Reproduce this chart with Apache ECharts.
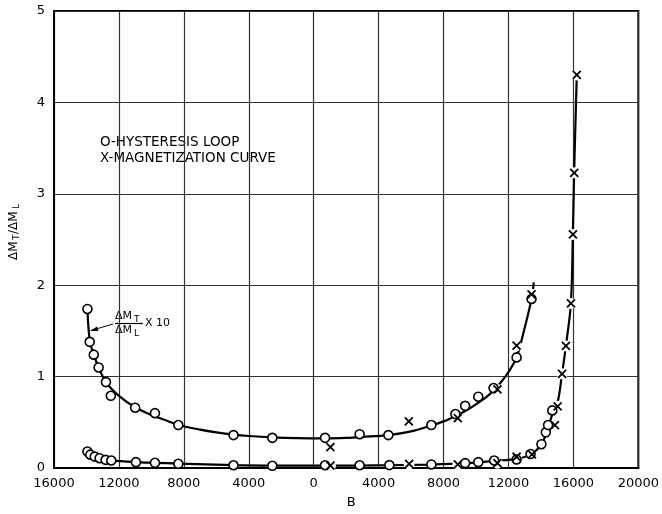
<!DOCTYPE html>
<html>
<head>
<meta charset="utf-8">
<script src="https://cdn.jsdelivr.net/npm/echarts@6/dist/echarts.min.js"></script>
<style>html,body{margin:0;padding:0;background:#fff;}#c{width:662px;height:514px;}</style>
</head>
<body>
<div id="c"></div>
<script>
// x tick settings
var xTickValues = [-16000, -12000, -8000, -4000, 0, 4000, 8000, 12000, 16000, 20000];
var yTickValues = [0, 1, 2, 3, 4, 5];

// Hysteresis loop (circles), upper set is dMT/dML x10
var hystUpperB = [-13940, -13800, -13550, -13250, -12800, -12500, -11000, -9780, -8340, -4940, -2550, 700, 2830, 4600, 7250, 8730, 9330, 10140, 11080, 12500, 13420];
var hystUpperV = [1.74, 1.38, 1.24, 1.10, 0.94, 0.79, 0.66, 0.60, 0.47, 0.36, 0.33, 0.33, 0.37, 0.36, 0.47, 0.59, 0.68, 0.78, 0.875, 1.21, 1.85];
var hystLowerB = [-13940, -13760, -13490, -13190, -12820, -12470, -10950, -9780, -8340, -4940, -2550, 700, 2830, 4660, 7250, 9330, 10140, 11120, 12500, 13360, 14030, 14300, 14440, 14700];
var hystLowerV = [0.18, 0.146, 0.125, 0.107, 0.089, 0.082, 0.064, 0.057, 0.046, 0.03, 0.024, 0.03, 0.03, 0.032, 0.039, 0.053, 0.064, 0.082, 0.093, 0.153, 0.26, 0.39, 0.47, 0.63];

// Magnetization curve (crosses)
var magUpperB = [1030, 5860, 8880, 11320, 12500, 13420];
var magUpperV = [0.228, 0.51, 0.546, 0.86, 1.34, 1.90];
var magLowerB = [1030, 5880, 8880, 11320, 12500, 13450, 14860, 15030, 15300, 15540, 15850, 15970, 16050, 16210];
var magLowerV = [0.025, 0.045, 0.039, 0.053, 0.123, 0.15, 0.468, 0.675, 1.03, 1.335, 1.80, 2.555, 3.23, 4.30];

// Drawn curves
var upperCurveB = [-13940, -13800, -13550, -13250, -12800, -12000, -11000, -10000, -9000, -8340, -7000, -6000, -4940, -4000, -2550, -1000, 700, 2000, 3000, 4600, 6000, 7250, 8000, 8800, 9500, 10100, 10800, 11500, 12000, 12500, 12950, 13420, 13560];
var upperCurveV = [1.74, 1.40, 1.24, 1.10, 0.94, 0.79, 0.665, 0.58, 0.515, 0.47, 0.42, 0.39, 0.365, 0.35, 0.335, 0.327, 0.325, 0.33, 0.34, 0.36, 0.40, 0.465, 0.51, 0.575, 0.64, 0.71, 0.80, 0.93, 1.05, 1.21, 1.50, 1.85, 2.03];
var lowerCurveB = [-13940, -13760, -13490, -13190, -12820, -12470, -11000, -9780, -8340, -4940, -2550, 700, 2830, 4660, 7250, 9330, 10140, 11120, 12500, 13400, 14030, 14300, 14500, 14730, 15030, 15300, 15540, 15845, 15966, 16045, 16210];
var lowerCurveV = [0.18, 0.146, 0.125, 0.107, 0.09, 0.08, 0.065, 0.057, 0.048, 0.032, 0.026, 0.025, 0.026, 0.03, 0.038, 0.05, 0.062, 0.078, 0.10, 0.152, 0.255, 0.37, 0.475, 0.60, 0.72, 1.03, 1.34, 1.80, 2.555, 3.23, 4.30];

function zip(a, b) { return a.map(function (v, i) { return [v, b[i]]; }); }

var chart = echarts.init(document.getElementById('c'), null, {renderer: 'canvas'});
var FONT = 'DejaVu Sans';
var option = {
  animation: false,
  backgroundColor: '#fff',
  grid: {left: 54, right: 19, top: 11, bottom: 36, show: true, borderColor: '#000', borderWidth: 2, backgroundColor: 'transparent'},
  xAxis: {
    type: 'value', min: xTickValues[0], max: xTickValues[xTickValues.length - 1], interval: 4000,
    name: 'B', nameLocation: 'middle', nameGap: 28,
    nameTextStyle: {fontFamily: FONT, fontSize: 13, color: '#000', padding: [0, 0, 0, 10]},
    axisLine: {show: true, onZero: false, lineStyle: {color: '#000', width: 2}},
    axisTick: {show: false},
    axisLabel: {formatter: function (v) { return String(Math.abs(v)); }, fontFamily: FONT, fontSize: 13, color: '#000', margin: 9},
    splitLine: {show: true, lineStyle: {color: '#333', width: 1.2}}
  },
  yAxis: {
    type: 'value', min: yTickValues[0], max: yTickValues[yTickValues.length - 1], interval: 1,
    axisLine: {show: true, onZero: false, lineStyle: {color: '#000', width: 2}},
    axisTick: {show: false},
    axisLabel: {fontFamily: FONT, fontSize: 13, color: '#000', margin: 9},
    splitLine: {show: true, lineStyle: {color: '#333', width: 1.2}}
  },
  graphic: [
    {type: 'text', left: 100, top: 135, style: {text: 'O-HYSTERESIS LOOP', font: '13.5px "DejaVu Sans"', fill: '#000'}},
    {type: 'text', left: 100, top: 151, style: {text: 'X-MAGNETIZATION CURVE', font: '13.5px "DejaVu Sans"', fill: '#000'}},
    // y-axis name, rotated
    {type: 'group', x: 14, y: 260, rotation: Math.PI / 2, children: [
      {type: 'text', x: 0, y: 0, style: {text: 'ΔM', font: '12px "DejaVu Sans"', fill: '#000', textVerticalAlign: 'middle'}},
      {type: 'text', x: 20, y: 3, style: {text: 'T', font: '9px "DejaVu Sans"', fill: '#000', textVerticalAlign: 'middle'}},
      {type: 'text', x: 26, y: 0, style: {text: '/ΔM', font: '12px "DejaVu Sans"', fill: '#000', textVerticalAlign: 'middle'}},
      {type: 'text', x: 51, y: 3, style: {text: 'L', font: '9px "DejaVu Sans"', fill: '#000', textVerticalAlign: 'middle'}}
    ]},
    // fraction annotation
    {type: 'text', x: 115, y: 311, style: {text: 'ΔM', font: '11px "DejaVu Sans"', fill: '#000'}},
    {type: 'text', x: 134, y: 315, style: {text: 'T', font: '9px "DejaVu Sans"', fill: '#000'}},
    {type: 'line', shape: {x1: 115, y1: 323.5, x2: 143, y2: 323.5}, style: {stroke: '#000', lineWidth: 1.2}},
    {type: 'text', x: 115, y: 325, style: {text: 'ΔM', font: '11px "DejaVu Sans"', fill: '#000'}},
    {type: 'text', x: 134, y: 329, style: {text: 'L', font: '9px "DejaVu Sans"', fill: '#000'}},
    {type: 'text', x: 145, y: 318, style: {text: 'X 10', font: '11px "DejaVu Sans"', fill: '#000'}},
    {type: 'line', shape: {x1: 113, y1: 324, x2: 91, y2: 330.5}, style: {stroke: '#000', lineWidth: 1}},
    {type: 'polygon', shape: {points: [[90, 331], [97, 326.5], [98.5, 331]]}, style: {fill: '#000'}}
  ],
  series: [
    {type: 'line', data: zip(upperCurveB, upperCurveV), smooth: 0.35, showSymbol: false, symbol: 'none',
      lineStyle: {color: '#000', width: 2.2}, z: 2},
    {type: 'line', data: zip(lowerCurveB, lowerCurveV), smooth: 0.35, showSymbol: false, symbol: 'none',
      lineStyle: {color: '#000', width: 2.2}, z: 2},
    {type: 'scatter', data: zip(magUpperB, magUpperV).concat(zip(magLowerB, magLowerV)), symbol: 'circle', symbolSize: 11,
      itemStyle: {color: '#fff', opacity: 1}, z: 3, silent: true},
    {type: 'scatter', data: zip(hystUpperB, hystUpperV).concat(zip(hystLowerB, hystLowerV)), symbol: 'circle', symbolSize: 9,
      itemStyle: {color: '#fff', borderColor: '#000', borderWidth: 1.6, opacity: 1}, z: 4},
    {type: 'scatter', data: zip(magUpperB, magUpperV).concat(zip(magLowerB, magLowerV)), symbol: 'path://M0 0L10 10M10 0L0 10', symbolSize: 8,
      itemStyle: {color: 'none', borderColor: '#000', borderWidth: 1.8, opacity: 1}, z: 5}
  ]
};
chart.setOption(option);
</script>
</body>
</html>
